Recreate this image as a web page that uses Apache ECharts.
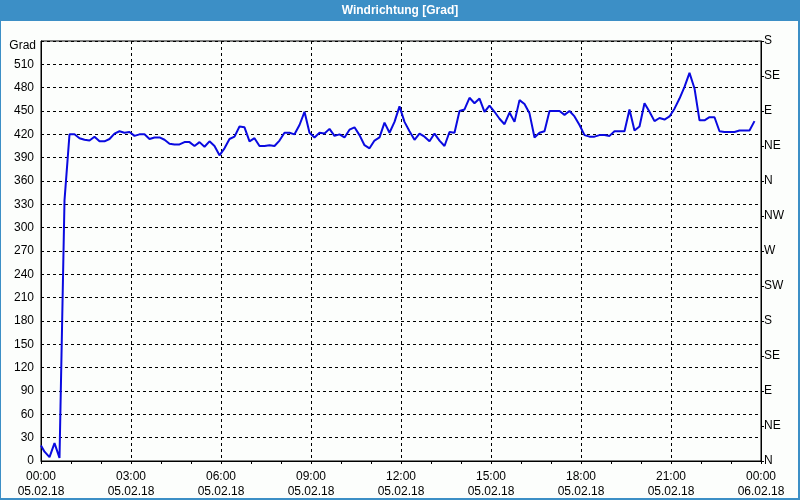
<!DOCTYPE html>
<html>
<head>
<meta charset="utf-8">
<script src="https://cdn.jsdelivr.net/npm/echarts@6/dist/echarts.min.js"></script>
<style>
html,body{margin:0;padding:0;background:#fcfefc;}
#c{width:800px;height:500px;}
</style>
</head>
<body>
<div id="c"></div>
<script>
// Sample times in minutes after 05.02.18 00:00
var times = [0,7,17,27,37,47,57,67,77,87,97,107,117,127,137,147,157,167,177,187,197,207,217,227,237,247,257,267,277,287,297,307,317,327,337,347,357,367,377,387,397,407,417,427,437,447,457,467,477,487,497,507,517,527,537,547,557,567,577,587,597,607,617,627,637,647,657,667,677,687,697,707,717,727,737,747,757,767,777,787,797,807,817,827,837,847,857,867,877,887,897,907,917,927,937,947,957,967,977,987,997,1007,1017,1027,1037,1047,1057,1067,1077,1087,1097,1107,1117,1127,1137,1147,1157,1167,1177,1187,1197,1207,1217,1227,1237,1247,1257,1267,1277,1287,1297,1307,1317,1327,1337,1347,1357,1367,1377,1387,1397,1407,1417,1427];
// Wind direction in degrees
var values = [20,12,5,23,4,335,420,420,415,413,412,417,411,411,414,421,424,422,423,418,420,420,414,416,416,413,408,407,407,410,410,405,410,404,411,405,393,402,414,417,430,429,411,415,405,405,406,405,412,422,422,420,432,449,422,416,422,421,427,418,420,416,426,429,419,406,402,412,416,435,422,436,456,436,424,413,421,417,411,421,412,405,423,422,450,452,467,460,466,449,457,449,440,433,448,436,464,459,447,416,422,424,450,450,450,445,450,443,432,419,417,417,419,419,418,424,424,424,452,425,430,460,449,437,441,439,443,453,466,481,499,479,438,438,442,442,424,423,423,423,425,425,425,437];
var leftTicks = [0,30,60,90,120,150,180,210,240,270,300,330,360,390,420,450,480,510];
var rightLabels = ['N','NE','E','SE','S','SW','W','NW','N','NE','E','SE','S'];
var dates = ['05.02.18','06.02.18'];
var titleText = 'Windrichtung [Grad]';
var yUnit = 'Grad';

var data = times.map(function(t,i){return [t, values[i]];});
var font = 'Liberation Sans';

function fmtTime(v){
  var m = v % 1440;
  var h = Math.floor(m/60), mm = m%60;
  return (h<10?'0':'')+h+':'+(mm<10?'0':'')+mm;
}

var chart = echarts.init(document.getElementById('c'), null, {renderer:'canvas'});
chart.setOption({
  backgroundColor:'#fcfefc',
  animation:false,
  textStyle:{fontFamily:font},
  grid:{left:41,right:39,top:41,bottom:39,show:true,borderColor:'#000',borderWidth:1,backgroundColor:'transparent'},
  graphic:[
    {type:'rect',shape:{x:0,y:0,width:800,height:21},style:{fill:'#3c8fc6'},z:10},
    {type:'text',x:400,y:11,style:{text:titleText,fill:'#fff',font:'bold 12px '+font,align:'center',verticalAlign:'middle'},z:11},
    {type:'rect',shape:{x:0,y:0,width:1,height:500},style:{fill:'#3c8fc6'},z:10},
    {type:'rect',shape:{x:798,y:0,width:2,height:500},style:{fill:'#3c8fc6'},z:10},
    {type:'rect',shape:{x:0,y:498,width:800,height:2},style:{fill:'#3c8fc6'},z:10},
    {type:'text',x:36,y:46,style:{text:yUnit,fill:'#000',font:'12px '+font,align:'right',verticalAlign:'middle'},z:11}
  ],
  xAxis:{
    type:'value',min:0,max:1440,interval:180,
    axisLine:{show:true,lineStyle:{color:'#000',width:1}},
    axisTick:{show:true,length:3,lineStyle:{color:'#000'}},
    minorTick:{show:true,splitNumber:3,length:3,lineStyle:{color:'#000'}},
    splitLine:{show:true,lineStyle:{color:'#000',type:[3,3],width:1}},
    axisLabel:{
      color:'#000',fontSize:12,fontFamily:font,margin:8,lineHeight:15,
      formatter:function(v){return fmtTime(v)+'\n'+(v>=1440?dates[1]:dates[0]);}
    }
  },
  yAxis:[
    {
      type:'value',min:0,max:540,interval:30,position:'left',
      axisLine:{show:true,lineStyle:{color:'#000'}},
      axisTick:{show:false},
      splitLine:{show:true,lineStyle:{color:'#000',type:[3,3],width:1}},
      axisLabel:{color:'#000',fontSize:12,fontFamily:font,margin:7,
        formatter:function(v){return leftTicks.indexOf(v)>=0?String(v):'';}}
    },
    {
      type:'value',min:0,max:540,interval:45,position:'right',
      axisLine:{show:true,lineStyle:{color:'#000'}},
      axisTick:{show:true,length:3,lineStyle:{color:'#000'}},
      splitLine:{show:false},
      axisLabel:{color:'#000',fontSize:12,fontFamily:font,margin:3,padding:[4,0,0,0],
        formatter:function(v){return rightLabels[Math.round(v/45)];}}
    }
  ],
  series:[{
    type:'line',data:data,yAxisIndex:0,showSymbol:false,symbol:'none',
    lineStyle:{color:'#0a0ae0',width:2},
    z:5
  }]
});
</script>
</body>
</html>
